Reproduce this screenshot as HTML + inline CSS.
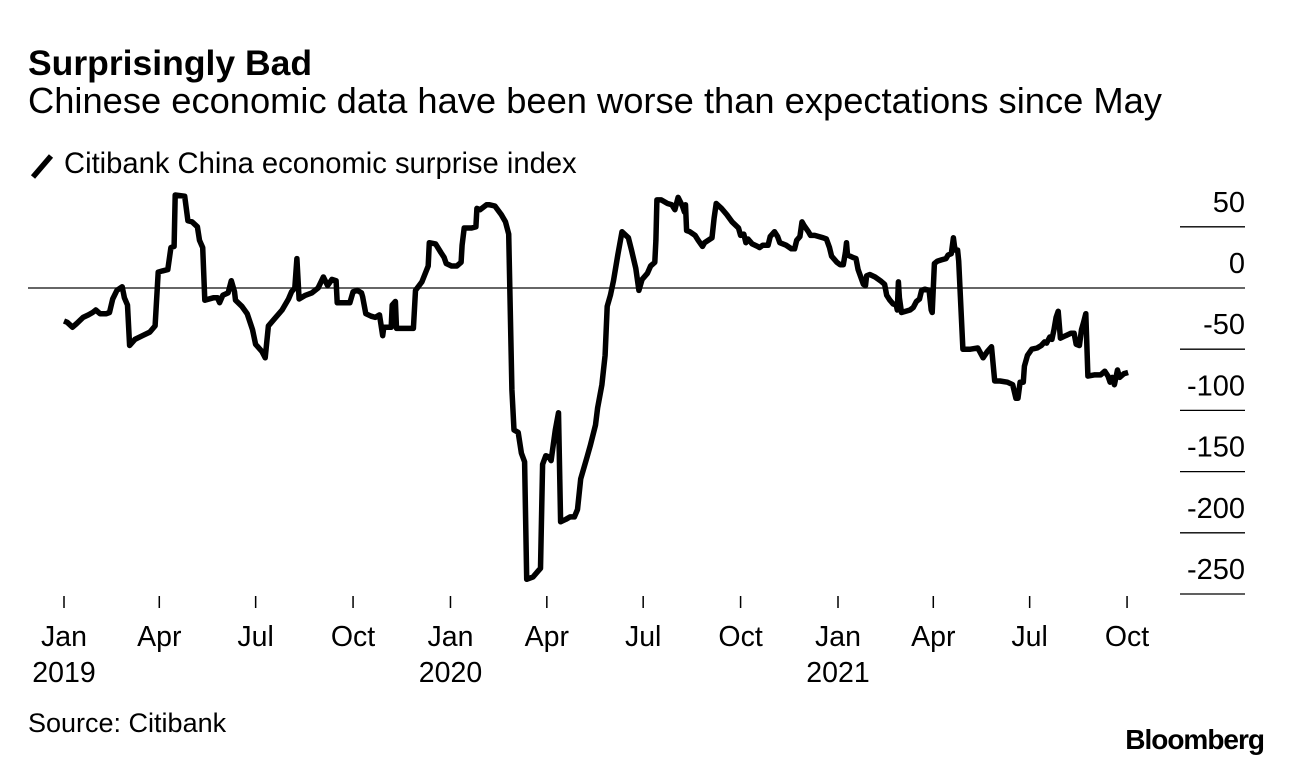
<!DOCTYPE html>
<html><head><meta charset="utf-8"><style>
body{margin:0;background:#fff;font-family:"Liberation Sans",Arial,sans-serif;}
svg{display:block}
</style></head><body>
<svg width="1292" height="764" xmlns="http://www.w3.org/2000/svg">
<text x="28" y="75" font-size="35.5" font-weight="bold">Surprisingly Bad</text>
<text x="28" y="113" font-size="36.3">Chinese economic data have been worse than expectations since May</text>
<line x1="33" y1="177" x2="51" y2="156" stroke="#000" stroke-width="5.5"/>
<text x="64" y="173" font-size="29.2">Citibank China economic surprise index</text>
<g id="grid"></g><g id="xaxis"></g>
<path id="line" fill="none" stroke="#000" stroke-width="5.5" stroke-linejoin="round"/>
<text x="28" y="732" font-size="27">Source: Citibank</text>
<text x="1264" y="749" font-size="28" font-weight="bold" text-anchor="end" letter-spacing="-1">Bloomberg</text>
</svg>
<script>
const yTicks=[50,0,-50,-100,-150,-200,-250];
const xTickDays=[0,90,181,273,365,456,547,639,731,821,912,1004];
const xTickLabels=["Jan","Apr","Jul","Oct","Jan","Apr","Jul","Oct","Jan","Apr","Jul","Oct"];
const yearLabels=[["2019",0],["2020",365],["2021",731]];
const days=[0,3,8,12,18,23,27,30,34,40,43,46,50,55,57,60,62,67,74,81,86,89,93,98,101,104,105,114,117,121,126,128,131,133,141,145,147,150,155,158,161,162,168,173,178,181,187,190,193,199,206,212,215,218,220,222,228,234,240,245,249,253,257,258,266,270,273,277,281,282,285,290,294,298,301,302,309,310,313,314,330,332,338,344,345,351,356,359,361,366,371,375,376,378,385,389,390,393,399,402,407,413,417,420,423,425,429,432,435,437,443,448,450,452,455,458,460,464,467,469,474,478,482,485,488,491,494,497,502,504,508,511,513,516,519,523,527,533,536,540,543,546,551,554,558,559,560,564,570,574,577,580,584,586,587,588,591,596,599,603,605,612,614,616,621,626,631,637,639,642,644,646,650,655,657,660,665,667,671,674,676,682,687,690,692,695,697,699,703,705,709,717,720,723,725,730,733,736,738,739,740,745,748,750,755,757,758,761,766,771,775,777,780,783,786,787,788,789,791,799,802,805,808,810,813,817,819,820,822,825,829,833,835,838,840,841,842,844,845,849,856,863,868,872,876,879,884,891,896,899,901,903,906,907,910,914,919,923,926,928,931,933,935,937,939,941,946,951,954,956,959,961,963,965,967,973,979,983,986,988,990,992,995,997,1001,1005];
const values=[-27,-28,-32,-29,-24,-22,-20,-18,-21,-21,-20,-9,-2,1,-8,-14,-47,-42,-39,-36,-31,13,14,15,33,34,76,75,55,54,50,39,33,-10,-8,-8,-12,-6,-4,6,-3,-10,-15,-21,-34,-46,-52,-57,-31,-25,-18,-9,-3,0,24,-9,-6,-4,0,9,2,7,6,-12,-12,-12,-3,-2,-4,-7,-21,-23,-24,-22,-39,-32,-32,-14,-11,-33,-33,-2,5,18,37,36,29,25,20,18,18,21,35,49,49,50,65,64,68,68,67,60,54,44,-83,-116,-118,-135,-142,-238,-236,-231,-229,-144,-137,-138,-141,-116,-102,-191,-189,-187,-187,-181,-156,-147,-138,-129,-112,-98,-79,-55,-15,-6,6,27,46,41,31,16,-2,7,12,18,21,39,72,72,69,68,64,74,67,62,68,47,46,43,39,34,37,41,57,69,65,60,54,49,43,44,37,40,36,34,33,35,35,42,46,42,37,35,32,32,39,42,54,51,46,43,43,41,40,33,26,21,19,19,29,37,27,25,24,15,3,2,10,11,9,6,3,-6,-10,-13,-14,-18,5,-8,-20,-18,-16,-11,-9,-2,-1,-2,-18,-20,20,22,23,24,27,28,41,34,31,31,22,-50,-50,-49,-57,-52,-48,-76,-76,-77,-79,-90,-90,-77,-77,-64,-55,-50,-49,-47,-44,-45,-40,-42,-34,-24,-19,-41,-39,-37,-37,-46,-47,-34,-28,-21,-72,-71,-71,-68,-72,-77,-73,-79,-67,-73,-70,-69];
const X=d=>64+d*(774/731);
const Y=v=>288-v*(306/250);
const NS="http://www.w3.org/2000/svg";
const grid=document.getElementById('grid');
yTicks.forEach(t=>{
  const l=document.createElementNS(NS,'line');
  
  
  l.setAttribute('x1',t===0?28:1180);l.setAttribute('x2',1245);
  l.setAttribute('y1',Y(t));l.setAttribute('y2',Y(t));
  l.setAttribute('stroke',t===0?'#333':'#000');l.setAttribute('stroke-width',t===0?1.5:1.3);
  grid.appendChild(l);
  const tx=document.createElementNS(NS,'text');
  
  
  tx.setAttribute('x',1245);tx.setAttribute('y',Y(t)-15);tx.setAttribute('text-anchor','end');tx.setAttribute('font-size','29');
  tx.textContent=t;grid.appendChild(tx);
});
const xa=document.getElementById('xaxis');
xTickDays.forEach((d,i)=>{
  const l=document.createElementNS(NS,'line');
  
  
  l.setAttribute('x1',X(d));l.setAttribute('x2',X(d));l.setAttribute('y1',596);l.setAttribute('y2',608);
  l.setAttribute('stroke','#000');l.setAttribute('stroke-width',1.5);xa.appendChild(l);
  const tx=document.createElementNS(NS,'text');
  
  
  tx.setAttribute('x',X(d));tx.setAttribute('y',646);tx.setAttribute('text-anchor','middle');tx.setAttribute('font-size','28.5');
  tx.textContent=xTickLabels[i];xa.appendChild(tx);
});
yearLabels.forEach(([s,d])=>{
  const tx=document.createElementNS(NS,'text');
  
  
  tx.setAttribute('x',X(d));tx.setAttribute('y',682);tx.setAttribute('text-anchor','middle');tx.setAttribute('font-size','28.5');
  tx.textContent=s;xa.appendChild(tx);
});
document.getElementById('line').setAttribute('d',days.map((d,i)=>(i?'L':'M')+X(d).toFixed(1)+' '+Y(values[i]).toFixed(1)).join(' '));
</script>
</body></html>
